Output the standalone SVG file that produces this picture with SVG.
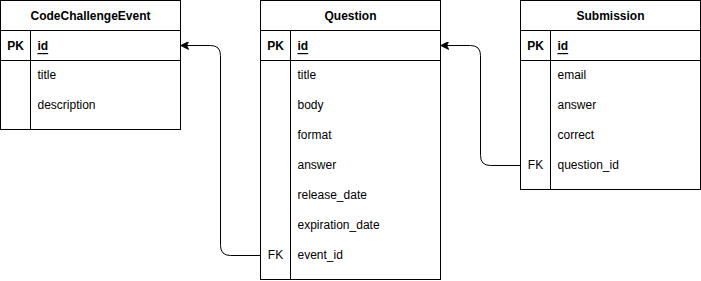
<svg xmlns="http://www.w3.org/2000/svg" width="701" height="281" viewBox="0 0 701 281">
  <style>
    .box { fill: #ffffff; stroke: #000000; stroke-width: 1; }
    .line { stroke: #000000; stroke-width: 1; fill: none; }
    text { font-family: "Liberation Sans", Arial, Helvetica, sans-serif; font-size: 12px; fill: #000000; dominant-baseline: central; }
    .title { font-weight: bold; text-anchor: middle; }
    .key { text-anchor: middle; }
    .pk { font-weight: bold; }
    .pkname { font-weight: bold; text-decoration: underline; }
    .edge { stroke: #000000; stroke-width: 1; fill: none; }
  </style>
  <defs>
    <marker id="arrow" viewBox="0 0 10 10" refX="9" refY="5" markerWidth="8" markerHeight="8" markerUnits="userSpaceOnUse" orient="auto">
      <path d="M0,0 L10,5 L0,10 L2.5,5 Z" fill="#000000" stroke="#000000" stroke-width="1"/>
    </marker>
  </defs>

  <!-- CodeChallengeEvent table -->
  <g id="code-challenge-event">
    <rect class="box" x="0.5" y="0.5" width="180" height="129"/>
    <line class="line" x1="0.5" y1="30.5" x2="180.5" y2="30.5"/>
    <line class="line" x1="0.5" y1="60.5" x2="180.5" y2="60.5"/>
    <line class="line" x1="30.5" y1="30.5" x2="30.5" y2="129.5"/>
    <text class="title" x="90.5" y="16">CodeChallengeEvent</text>
    <text class="key pk" x="15.5" y="46">PK</text>
    <text class="pkname" x="37.5" y="46">id</text>
    <text x="37.5" y="75">title</text>
    <text x="37.5" y="105">description</text>
  </g>

  <!-- Question table -->
  <g id="question">
    <rect class="box" x="260.5" y="0.5" width="180" height="279"/>
    <line class="line" x1="260.5" y1="30.5" x2="440.5" y2="30.5"/>
    <line class="line" x1="260.5" y1="60.5" x2="440.5" y2="60.5"/>
    <line class="line" x1="290.5" y1="30.5" x2="290.5" y2="279.5"/>
    <text class="title" x="350.5" y="16">Question</text>
    <text class="key pk" x="275.5" y="46">PK</text>
    <text class="pkname" x="297.5" y="46">id</text>
    <text x="297.5" y="75">title</text>
    <text x="297.5" y="105">body</text>
    <text x="297.5" y="135">format</text>
    <text x="297.5" y="165">answer</text>
    <text x="297.5" y="195">release_date</text>
    <text x="297.5" y="225">expiration_date</text>
    <text class="key" x="275.5" y="255">FK</text>
    <text x="297.5" y="255">event_id</text>
  </g>

  <!-- Submission table -->
  <g id="submission">
    <rect class="box" x="520.5" y="0.5" width="180" height="189"/>
    <line class="line" x1="520.5" y1="30.5" x2="700.5" y2="30.5"/>
    <line class="line" x1="520.5" y1="60.5" x2="700.5" y2="60.5"/>
    <line class="line" x1="550.5" y1="30.5" x2="550.5" y2="189.5"/>
    <text class="title" x="610.5" y="16">Submission</text>
    <text class="key pk" x="535.5" y="46">PK</text>
    <text class="pkname" x="557.5" y="46">id</text>
    <text x="557.5" y="75">email</text>
    <text x="557.5" y="105">answer</text>
    <text x="557.5" y="135">correct</text>
    <text class="key" x="535.5" y="165">FK</text>
    <text x="557.5" y="165">question_id</text>
  </g>

  <!-- Foreign key relations -->
  <g id="connectors">
    <path class="edge" d="M260.5,255.5 L230.5,255.5 Q220.5,255.5 220.5,245.5 L220.5,55.5 Q220.5,45.5 210.5,45.5 L181.5,45.5" marker-end="url(#arrow)"/>
    <path class="edge" d="M520.5,165.5 L490.5,165.5 Q480.5,165.5 480.5,155.5 L480.5,55.5 Q480.5,45.5 470.5,45.5 L441.5,45.5" marker-end="url(#arrow)"/>
  </g>
</svg>
